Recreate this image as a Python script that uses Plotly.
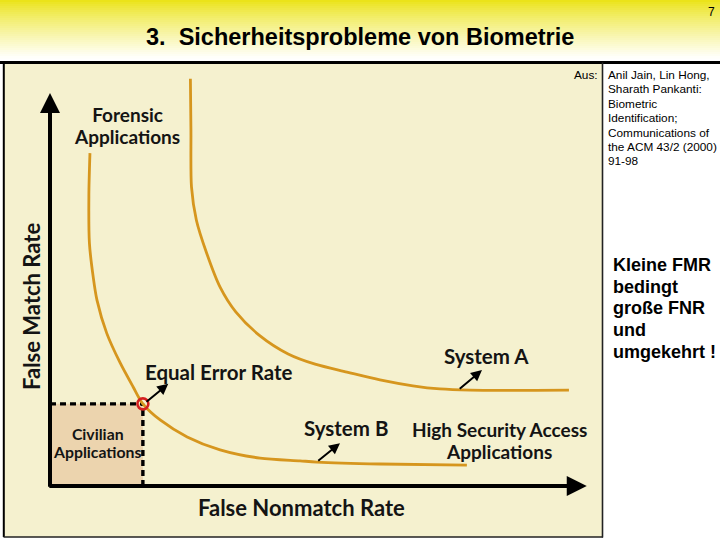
import plotly.graph_objects as go

W, H = 720, 540

# ---- data (relative units: FNMR on x, FMR on y; axis arrows end near 100) ----
sys_a_fnmr = [26.0, 26.1, 26.2, 27.1, 29.0, 31.5, 34.4, 38.9, 44.1, 49.1, 55.0, 61.1, 67.2, 72.2, 77.8, 96.1]
sys_a_fmr = [103.6, 90.6, 76.1, 67.7, 59.3, 50.6, 44.3, 38.2, 33.6, 31.0, 29.0, 27.0, 25.5, 24.7, 24.4, 24.4]

sys_b_fnmr = [7.4, 7.2, 7.3, 8.0, 8.7, 10.5, 13.0, 15.4, 17.2, 20.4, 25.4, 31.5, 38.9, 46.3, 49.4, 61.1, 77.2]
sys_b_fmr = [84.7, 74.1, 61.8, 53.2, 47.3, 38.9, 31.3, 25.2, 20.9, 16.8, 12.5, 9.2, 7.1, 6.4, 6.1, 5.6, 5.3]

eer_fnmr = [17.2]
eer_fmr = [20.9]

axis_end_x = 99.4
axis_end_y = 100.0

# pointer arrows: (tail x, tail y) -> (head x, head y) in data units
pointer_tails = [(17.6, 21.1), (75.6, 24.4), (49.4, 6.1)]
pointer_heads = [(21.9, 26.0), (80.0, 29.5), (53.7, 10.9)]

source_lines = ["Anil Jain, Lin Hong,", "Sharath Pankanti:", "Biometric",
                "Identification;", "Communications of", "the ACM 43/2 (2000)", "91-98"]
remark_lines = ["Kleine FMR", "bedingt", "große FNR", "und", "umgekehrt !"]

# ---- calibration: data units -> pixel ----
X0_PX, X_SCALE = 50.0, 5.4
Y0_PX, Y_SCALE = 486.0, 3.93


def px(x):
    return x / W


def py(y):
    return 1 - y / H


CURVE = "#D6961E"
BEIGE = "#F5F1CF"
TAN = "#ECD4AE"
LABEL_FONT = "Lato, 'Open Sans', sans-serif"
ARIAL = "Arial, 'Liberation Sans', sans-serif"
INK = "#141414"

fig = go.Figure()

fig.add_trace(go.Scatter(x=sys_a_fnmr, y=sys_a_fmr, mode="lines",
                         line=dict(color=CURVE, width=2.8, shape="spline", smoothing=0.8),
                         hoverinfo="skip", showlegend=False))
fig.add_trace(go.Scatter(x=sys_b_fnmr, y=sys_b_fmr, mode="lines",
                         line=dict(color=CURVE, width=2.8, shape="spline", smoothing=0.8),
                         hoverinfo="skip", showlegend=False))
fig.add_trace(go.Scatter(x=eer_fnmr, y=eer_fmr, mode="markers",
                         marker=dict(symbol="circle-open", size=11, color="#D42020",
                                     line=dict(width=2.6, color="#D42020")),
                         hoverinfo="skip", showlegend=False))

shapes = []
# header gradient
n_bands = 29
top_c = (235, 227, 25)
bot_c = (255, 255, 250)
for i in range(n_bands):
    t = (i / (n_bands - 1)) ** 0.85
    c = tuple(int(round(top_c[k] + (bot_c[k] - top_c[k]) * t)) for k in range(3))
    shapes.append(dict(type="rect", xref="paper", yref="paper", x0=0, x1=1,
                       y0=py(i * 2 + 2.5), y1=py(i * 2), fillcolor="rgb(%d,%d,%d)" % c,
                       line=dict(width=0), layer="below"))
# beige picture box
shapes.append(dict(type="rect", xref="paper", yref="paper", x0=px(3.5), x1=px(602.5),
                   y0=py(537), y1=py(62.5), fillcolor=BEIGE, line=dict(width=0), layer="below"))
# civilian region
shapes.append(dict(type="rect", xref="x", yref="y", x0=0, x1=eer_fnmr[0], y0=0, y1=eer_fmr[0],
                   fillcolor=TAN, line=dict(width=0), layer="below"))
# dashed EER guides
shapes.append(dict(type="line", xref="x", yref="y", x0=0, x1=eer_fnmr[0], y0=eer_fmr[0], y1=eer_fmr[0],
                   line=dict(color="black", width=3.4, dash="6px,4px"), layer="below"))
shapes.append(dict(type="line", xref="x", yref="y", x0=eer_fnmr[0], x1=eer_fnmr[0], y0=0, y1=eer_fmr[0],
                   line=dict(color="black", width=3.4, dash="6px,4px"), layer="below"))
# frame lines
shapes.append(dict(type="line", xref="paper", yref="paper", x0=0, x1=1, y0=py(62.5), y1=py(62.5),
                   line=dict(color="black", width=3.2)))
shapes.append(dict(type="line", xref="paper", yref="paper", x0=px(3.8), x1=px(3.8), y0=py(537), y1=py(62.5),
                   line=dict(color="black", width=2)))
shapes.append(dict(type="line", xref="paper", yref="paper", x0=px(3.5), x1=px(603), y0=py(537), y1=py(537),
                   line=dict(color="#222", width=1.6)))
shapes.append(dict(type="line", xref="paper", yref="paper", x0=px(602.5), x1=px(602.5), y0=py(537.5), y1=py(62.5),
                   line=dict(color="#222", width=1.6)))

ann = []


def arrow(hx, hy, tx, ty, width, size):
    return dict(x=hx, y=hy, ax=tx, ay=ty, xref="x", yref="y", axref="x", ayref="y",
                text="", showarrow=True, arrowhead=2, arrowwidth=width, arrowsize=size,
                arrowcolor="black", standoff=0)


# axes arrows
ann.append(arrow(0, axis_end_y, 0, -0.6, 4, 1.0))
ann.append(arrow(axis_end_x, 0, -0.4, 0, 4, 1.0))
for (tx, ty), (hx, hy) in zip(pointer_tails, pointer_heads):
    ann.append(arrow(hx, hy, tx, ty, 2, 1.1))


def label(lines, x, y, size, spacing=None, family=LABEL_FONT, color=INK, angle=0,
          xanchor="center", bold=True, align="center"):
    if isinstance(lines, str):
        lines = [lines]
    if spacing is None:
        base = size
        body = "<br>".join(lines)
    else:
        base = spacing / 1.3
        body = "<br>".join("<span style='font-size:%gpx'>%s</span>" % (size, l) for l in lines)
    t = "<b>%s</b>" % body if bold else body
    return dict(text=t, x=px(x), y=py(y), xref="paper", yref="paper", showarrow=False,
                xanchor=xanchor, yanchor="middle", textangle=angle, align=align,
                font=dict(family=family, size=base, color=color))


ann.append(label(["Forensic", "Applications"], 127, 125.5, 19, spacing=21.5))
ann.append(label("Equal Error Rate", 218.5, 372, 20.5))
ann.append(label("System A", 486, 356, 20.5))
ann.append(label("System B", 345.5, 428, 20.5))
ann.append(label(["High Security Access", "Applications"], 499, 440, 19, spacing=21.5))
ann.append(label(["Civilian", "Applications"], 97, 442, 15.8, spacing=18))
ann.append(label("False Nonmatch Rate", 301.5, 507, 22))
ann.append(label("False Match Rate", 31, 307, 22, angle=-90))

ann.append(label("3.  Sicherheitsprobleme von Biometrie", 359.5, 37, 23.5, family=ARIAL, color="black"))
ann.append(label("7", 711, 12, 12, family=ARIAL, color="black", bold=False))
ann.append(label("Aus:", 600, 75, 11.8, family=ARIAL, color="black", bold=False, xanchor="right"))
ann.append(label(source_lines, 606, 75 + 3 * 14.4, 11.8, spacing=14.4, family=ARIAL, color="black",
                 bold=False, xanchor="left", align="left"))
ann.append(label(remark_lines, 611, 265 + 2 * 21.7, 18, spacing=21.7, family=ARIAL, color="black",
                 xanchor="left", align="left"))

fig.update_layout(
    width=W, height=H, margin=dict(l=0, r=0, t=0, b=0),
    paper_bgcolor="white", plot_bgcolor="rgba(0,0,0,0)",
    xaxis=dict(range=[(0 - X0_PX) / X_SCALE, (W - X0_PX) / X_SCALE], visible=False, fixedrange=True,
               domain=[0, 1]),
    yaxis=dict(range=[(Y0_PX - H) / Y_SCALE, Y0_PX / Y_SCALE], visible=False, fixedrange=True,
               domain=[0, 1]),
    shapes=shapes, annotations=ann, showlegend=False, hovermode=False,
)

fig.write_html("out.html", config={"displayModeBar": False},
               post_script="document.body.style.margin='0';document.body.style.overflow='hidden';")
